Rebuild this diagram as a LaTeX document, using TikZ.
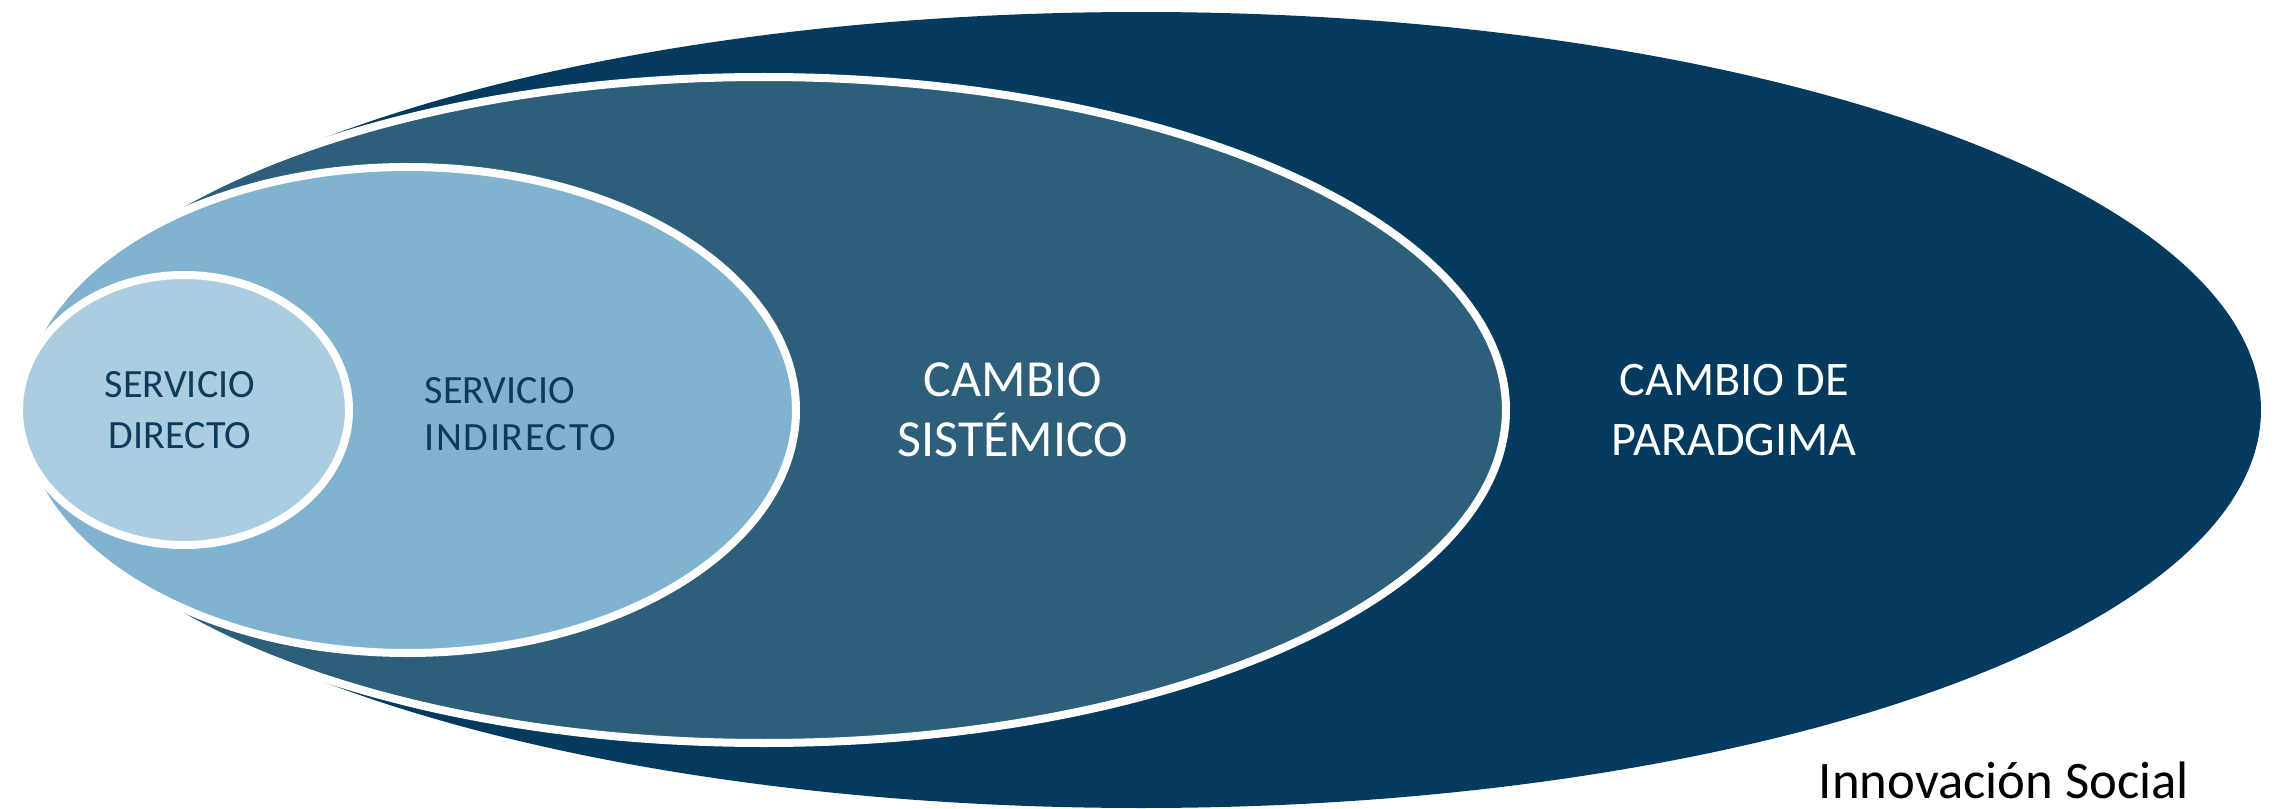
\documentclass[tikz,border=0pt]{standalone}
\usepackage{fontspec}
\setmainfont{Carlito}
\definecolor{navy}{HTML}{033A5E}
\definecolor{teal}{HTML}{2E5F7A}
\definecolor{skyb}{HTML}{7FB3CF}
\definecolor{pale}{HTML}{ABCDE0}
\definecolor{darktext}{HTML}{0E3A5C}
\tikzset{
  ring/.style={draw=white, line width=0.08cm},
  lbl/.style={align=center, inner sep=0pt},
}
\begin{document}
\begin{tikzpicture}[x=0.01cm,y=-0.01cm]
\useasboundingbox (0,0) rectangle (2277,809);
\path[fill=navy] (1141.3,410) ellipse [x radius=1119.7, y radius=398];
\path[ring, fill=teal] (764,410) ellipse [x radius=742, y radius=333];
\path[ring, fill=skyb] (407.6,410) ellipse [x radius=388.4, y radius=243];
\path[ring, fill=pale] (184,410) ellipse [x radius=165, y radius=135];
\node[lbl, text=darktext, font=\fontsize{11.4}{14.3}\selectfont] (sd) at (180,410) {SERVICIO\\DIRECTO};
\node[lbl, text=darktext, font=\fontsize{11.4}{13.4}\selectfont, align=left, anchor=west] (si) at (424,414) {SERVICIO\\\addfontfeature{LetterSpace=4}INDIRECTO};
\node[lbl, text=white, font=\fontsize{14.8}{17.2}\selectfont] (cs) at (1013,410) {CAMBIO\\SISTÉMICO};
\node[lbl, text=white, font=\fontsize{13.7}{16.8}\selectfont] (cp) at (1734,410) {CAMBIO DE\\PARADGIMA};
\node[lbl, text=black, font=\fontsize{15}{17}\selectfont, anchor=base] (is) at (2004,798) {Innovación Social};
\end{tikzpicture}
\end{document}
